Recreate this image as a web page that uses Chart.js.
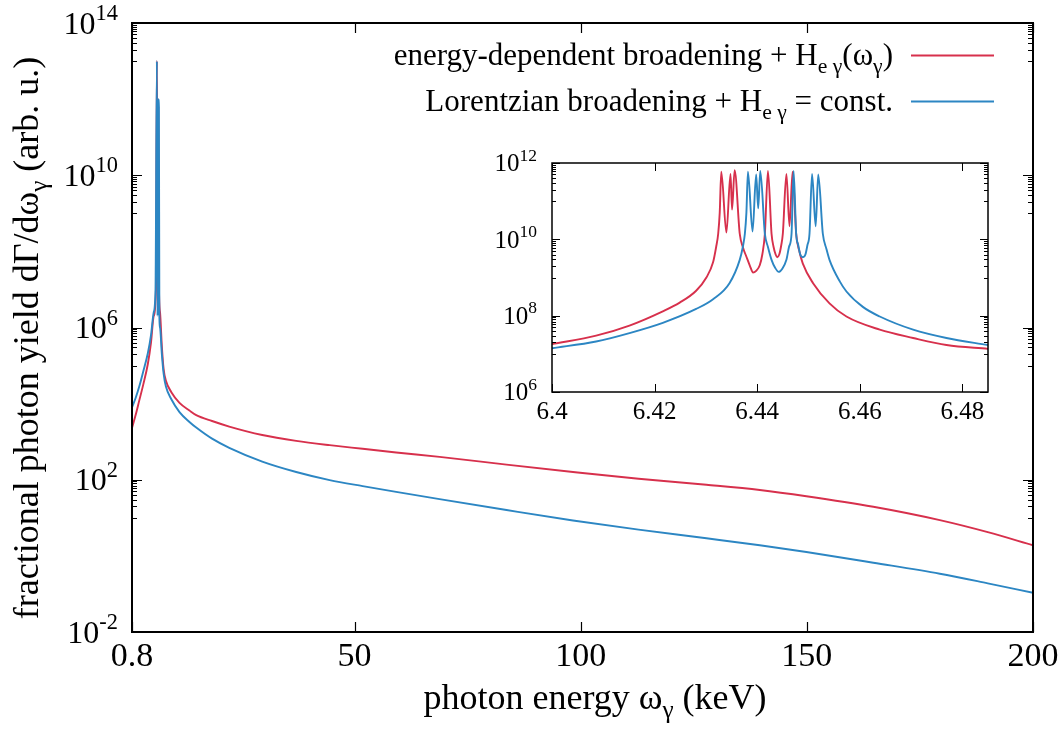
<!DOCTYPE html>
<html>
<head>
<meta charset="utf-8">
<script src="https://cdn.jsdelivr.net/npm/chart.js@4.4.1/dist/chart.umd.min.js"></script>
<style>
  body { margin: 0; background: #fff; }
  #wrap { position: relative; width: 1061px; height: 731px; }
  canvas { position: absolute; }
  #mainChart { left: 0; top: 0; }
  #insetChart { left: 470px; top: 135px; }
</style>
</head>
<body>
<div id="wrap">
  <canvas id="mainChart" width="1061" height="731"></canvas>
  <canvas id="insetChart" width="540" height="300"></canvas>
</div>
<script>
// ---- data ----
const RED = '#d7304c';
const BLUE = '#2c86c3';

// main panel, energy-dependent broadening (red)
const mainEnergyRed = [0.8, 1.6, 2.4, 3.3, 4.3, 5.0, 5.6, 6.1, 6.3, 6.45, 6.6, 6.75, 7.0,
    7.4, 7.8, 8.3, 9.5, 11.3, 13.5, 15.0, 18.5, 22.3, 29.6, 37.1, 44.5, 51.8, 59.2, 68.8, 83.6, 98.3,
    112.8, 127.8, 139.6, 149.9, 164.7, 179.4, 190, 200];
const mainYieldRed = [2.3e3, 5.0e3, 1.2e4, 3.2e4, 1.1e5, 4.0e5, 2.0e6, 1.0e7, 1.0e13, 3.4e9, 5.9e11, 1.3e7, 2.5e6,
    3.2e5, 7.9e4, 4.0e4, 2.0e4, 1.05e4, 6.6e3, 5.0e3, 3.5e3, 2.5e3, 1.5e3, 1.05e3, 810, 650, 520, 400, 250, 160,
    106, 74, 54, 37, 19.5, 8.7, 4.2, 1.9];

// main panel, Lorentzian broadening (blue)
const mainEnergyBlue = [0.8, 1.6, 2.4, 3.3, 4.3, 5.0, 5.6, 6.0, 6.3, 6.45, 6.6, 6.75, 6.85, 7.0,
    7.4, 7.8, 8.3, 9.5, 11.3, 13.5, 15.0, 18.5, 22.3, 29.6, 37.1, 44.5, 51.8, 59.2, 68.8, 83.6, 98.3,
    112.8, 127.8, 139.6, 149.9, 164.7, 179.4, 190, 200];
const mainYieldBlue = [7.9e3, 1.4e4, 2.8e4, 7.1e4, 2.1e5, 6.3e5, 2.5e6, 1.0e7, 1.0e13, 2.0e6, 1.0e12, 6.2e11, 2.0e6, 1.0e6,
    2.0e5, 6.0e4, 2.8e4, 1.3e4, 6.0e3, 3.3e3, 2.35e3, 1.2e3, 690, 300, 160, 98, 68, 48, 31, 16, 8.5,
    4.9, 2.9, 1.9, 1.26, 0.66, 0.34, 0.19, 0.107];

// inset, red
const insetEnergyRed = [6.400, 6.4086, 6.4151, 6.4216, 6.4249, 6.4281, 6.4301, 6.4314, 6.4320, 6.4324, 6.4327, 6.4330,
    6.4340, 6.4348, 6.4351, 6.4356, 6.4366, 6.4372, 6.4379, 6.4386, 6.4392, 6.4398, 6.4405, 6.4410, 6.4415,
    6.4421, 6.4428, 6.4432, 6.4436, 6.4439, 6.4443, 6.4447, 6.4450, 6.4457, 6.4463, 6.4469, 6.4476, 6.4482,
    6.4489, 6.4509, 6.4541, 6.4574, 6.4639, 6.4704, 6.4769, 6.485];
const insetYieldRed = [1.8e7, 3.0e7, 5.5e7, 1.3e8, 2.2e8, 4.5e8, 1.0e9, 2.5e9, 6.3e9, 1.4e10, 5.0e10, 5.9e11,
    1.5e10, 5.2e11, 6.0e10, 6.5e11, 1.4e10, 6.3e9, 3.5e9, 2.0e9, 1.35e9, 1.5e9, 2.1e9, 4.0e9, 1.4e10,
    6.2e11, 1.4e10, 6.3e9, 4.0e9, 3.4e9, 4.0e9, 7.1e9, 1.4e10, 5.2e11, 2.2e10, 5.9e11, 1.4e10, 5.0e9,
    2.3e9, 7.1e8, 2.1e8, 9.5e7, 4.3e7, 2.6e7, 1.7e7, 1.35e7];

// inset, blue
const insetEnergyBlue = [6.400, 6.4086, 6.4151, 6.4216, 6.4281, 6.4314, 6.4346, 6.4366, 6.4372, 6.4376, 6.4379, 6.4382,
    6.4391, 6.4398, 6.4402, 6.4406, 6.4415, 6.4421, 6.4428, 6.4435, 6.4442, 6.4449, 6.4457, 6.4462, 6.4467,
    6.4471, 6.4476, 6.4480, 6.4484, 6.4489, 6.4494, 6.4498, 6.4502, 6.4507, 6.4514, 6.4519, 6.4528, 6.4535,
    6.4541, 6.4561, 6.4574, 6.4606, 6.4639, 6.4704, 6.4769, 6.485];
const insetYieldBlue = [1.4e7, 2.1e7, 3.5e7, 6.5e7, 1.5e8, 2.7e8, 7.1e8, 2.9e9, 6.3e9, 1.4e10, 5.0e10, 5.9e11,
    1.6e10, 5.0e11, 6.5e10, 6.2e11, 1.4e10, 6.3e9, 2.9e9, 1.8e9, 1.4e9, 1.7e9, 2.9e9, 6.3e9, 1.4e10,
    6.2e11, 1.4e10, 7.1e9, 4.0e9, 3.4e9, 4.0e9, 7.1e9, 1.4e10, 5.2e11, 2.2e10, 5.0e11, 1.4e10, 5.6e9,
    2.9e9, 7.9e8, 4.3e8, 1.7e8, 9.5e7, 4.3e7, 2.6e7, 1.7e7];

// axes
const mainXTicks = [0.8, 50, 100, 150, 200];
const mainXTickLabels = ['0.8', '50', '100', '150', '200'];
const mainYTicks = [1e-2, 1e2, 1e6, 1e10, 1e14];
const mainYTickExps = ['-2', '2', '6', '10', '14'];
const insetXTicks = [6.4, 6.42, 6.44, 6.46, 6.48];
const insetXTickLabels = ['6.4', '6.42', '6.44', '6.46', '6.48'];
const insetYTicks = [1e6, 1e8, 1e10, 1e12];
const insetYTickExps = ['6', '8', '10', '12'];

const FONT = '"Liberation Serif", "Times New Roman", serif';

// draw text made of [string, level] parts; level -1 = subscript, 1 = superscript
function drawRich(ctx, parts, x, y, size, align) {
    const sizes = parts.map(p => p[1] === 0 ? size : size * 0.7);
    const widths = parts.map((p, i) => {
        ctx.font = sizes[i] + 'px ' + FONT;
        return ctx.measureText(p[0]).width;
    });
    const total = widths.reduce((a, b) => a + b, 0);
    let cx = align === 'right' ? x - total : align === 'center' ? x - total / 2 : x;
    ctx.textAlign = 'left';
    ctx.textBaseline = 'alphabetic';
    parts.forEach((p, i) => {
        ctx.font = sizes[i] + 'px ' + FONT;
        const dy = p[1] < 0 ? size * 0.25 : p[1] > 0 ? -size * 0.42 : 0;
        ctx.fillText(p[0], cx, y + dy);
        cx += widths[i];
    });
}

function points(xs, ys) {
    return xs.map((x, i) => ({ x: x, y: ys[i] }));
}

// gnuplot style box with inward, mirrored ticks and tick labels
const gnuplotFrame = {
    id: 'gnuplotFrame',
    beforeDatasetsDraw(chart) {
        const { ctx, chartArea: a } = chart;
        ctx.save();
        ctx.fillStyle = '#fff';
        ctx.fillRect(a.left, a.top, a.right - a.left, a.bottom - a.top);
        ctx.restore();
    },
    afterDatasetsDraw(chart, args, o) {
        const { ctx, chartArea: a, scales: { x, y } } = chart;
        ctx.save();
        ctx.strokeStyle = '#000';
        ctx.fillStyle = '#000';
        ctx.lineWidth = o.tickWidth;
        ctx.beginPath();
        o.xTicks.forEach(v => {
            const px = Math.round(x.getPixelForValue(v)) + 0.5;
            ctx.moveTo(px, a.bottom); ctx.lineTo(px, a.bottom - o.major);
            ctx.moveTo(px, a.top); ctx.lineTo(px, a.top + o.major);
        });
        o.yTicks.forEach((v, i) => {
            const py = Math.round(y.getPixelForValue(v)) + 0.5;
            ctx.moveTo(a.left, py); ctx.lineTo(a.left + o.major, py);
            ctx.moveTo(a.right, py); ctx.lineTo(a.right - o.major, py);
            if (i === 0) return;
            // minor ticks k * 10^(n-1) below each major
            for (let k = 1; k <= 9; k++) {
                const mv = k * v / 10;
                if (mv <= o.yTicks[i - 1]) continue;
                const my = Math.round(y.getPixelForValue(mv)) + 0.5;
                ctx.moveTo(a.left, my); ctx.lineTo(a.left + o.minor, my);
                ctx.moveTo(a.right, my); ctx.lineTo(a.right - o.minor, my);
            }
        });
        ctx.stroke();
        ctx.lineWidth = o.borderWidth;
        ctx.strokeRect(a.left, a.top, a.right - a.left, a.bottom - a.top);

        o.xTicks.forEach((v, i) => {
            drawRich(ctx, [[o.xLabels[i], 0]], x.getPixelForValue(v), a.bottom + o.xGap, o.xFont, 'center');
        });
        o.yTicks.forEach((v, i) => {
            drawRich(ctx, [['10', 0], [o.yExps[i], 1]], a.left - o.yGap,
                y.getPixelForValue(v) + o.yFont * 0.33, o.yFont, 'right');
        });
        ctx.restore();
    }
};

// axis titles and key of the main panel
const mainDecor = {
    id: 'mainDecor',
    afterDraw(chart) {
        const { ctx } = chart;
        ctx.save();
        ctx.fillStyle = '#000';
        drawRich(ctx, [['photon energy ω', 0], ['γ', -1], [' (keV)', 0]], 595, 709, 36, 'center');
        ctx.translate(38, 338);
        ctx.rotate(-Math.PI / 2);
        drawRich(ctx, [['fractional photon yield dΓ/dω', 0], ['γ', -1], [' (arb. u.)', 0]], 0, 0, 36, 'center');
        ctx.restore();

        ctx.save();
        ctx.fillStyle = '#000';
        drawRich(ctx, [['energy-dependent broadening + H', 0], ['e γ', -1], ['(ω', 0], ['γ', -1], [')', 0]],
            893, 65, 31, 'right');
        drawRich(ctx, [['Lorentzian broadening + H', 0], ['e γ', -1], [' = const.', 0]], 893, 111, 31, 'right');
        ctx.lineWidth = 1.8;
        ctx.strokeStyle = RED;
        ctx.beginPath(); ctx.moveTo(911, 55.5); ctx.lineTo(994, 55.5); ctx.stroke();
        ctx.strokeStyle = BLUE;
        ctx.beginPath(); ctx.moveTo(911, 101.5); ctx.lineTo(994, 101.5); ctx.stroke();
        ctx.restore();
    }
};

function lineSet(label, data, color, order) {
    return {
        label: label,
        data: data,
        borderColor: color,
        backgroundColor: color,
        borderWidth: 1.9,
        pointRadius: 0,
        cubicInterpolationMode: 'monotone',
        order: order
    };
}

function hiddenAxis(extra) {
    return Object.assign({
        grid: { display: false },
        border: { display: false },
        ticks: { display: false }
    }, extra);
}

new Chart(document.getElementById('mainChart'), {
    type: 'line',
    data: {
        datasets: [
            lineSet('energy-dependent broadening', points(mainEnergyRed, mainYieldRed), RED, 1),
            lineSet('Lorentzian broadening', points(mainEnergyBlue, mainYieldBlue), BLUE, 0)
        ]
    },
    options: {
        responsive: false,
        animation: false,
        events: [],
        layout: { padding: { left: 0, top: 23, right: 28, bottom: 0 } },
        plugins: {
            legend: { display: false },
            tooltip: { enabled: false },
            gnuplotFrame: {
                xTicks: mainXTicks, xLabels: mainXTickLabels,
                yTicks: mainYTicks, yExps: mainYTickExps,
                major: 10, minor: 5, tickWidth: 1.2, borderWidth: 2,
                xFont: 34, yFont: 32, xGap: 34, yGap: 14
            }
        },
        scales: {
            x: hiddenAxis({ type: 'linear', min: 0.8, max: 200, afterFit: s => { s.height = 99; } }),
            y: hiddenAxis({ type: 'logarithmic', min: 1e-2, max: 1e14, afterFit: s => { s.width = 132; } })
        }
    },
    plugins: [gnuplotFrame, mainDecor]
});

new Chart(document.getElementById('insetChart'), {
    type: 'line',
    data: {
        datasets: [
            lineSet('energy-dependent broadening', points(insetEnergyRed, insetYieldRed), RED, 1),
            lineSet('Lorentzian broadening', points(insetEnergyBlue, insetYieldBlue), BLUE, 0)
        ]
    },
    options: {
        responsive: false,
        animation: false,
        events: [],
        layout: { padding: { left: 0, top: 28, right: 22, bottom: 0 } },
        plugins: {
            legend: { display: false },
            tooltip: { enabled: false },
            gnuplotFrame: {
                xTicks: insetXTicks, xLabels: insetXTickLabels,
                yTicks: insetYTicks, yExps: insetYTickExps,
                major: 8, minor: 4, tickWidth: 1, borderWidth: 1.5,
                xFont: 25, yFont: 25, xGap: 27, yGap: 15
            }
        },
        scales: {
            x: hiddenAxis({ type: 'linear', min: 6.4, max: 6.485, afterFit: s => { s.height = 43; } }),
            y: hiddenAxis({ type: 'logarithmic', min: 1e6, max: 1e12, afterFit: s => { s.width = 82; } })
        }
    },
    plugins: [gnuplotFrame]
});
</script>
</body>
</html>
